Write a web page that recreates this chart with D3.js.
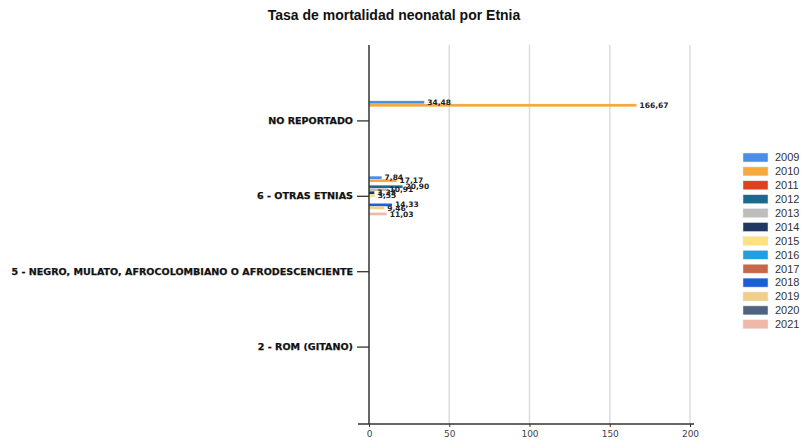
<!DOCTYPE html>
<html><head><meta charset="utf-8">
<script src="https://cdn.jsdelivr.net/npm/d3@7"></script>
<style>
html,body{margin:0;padding:0;background:#fff;}
svg{display:block;}
</style></head>
<body>
<svg id="chart" width="804" height="441"></svg>
<script>
const title = "Tasa de mortalidad neonatal por Etnia";
const categories = ["NO REPORTADO", "6 - OTRAS ETNIAS", "5 - NEGRO, MULATO, AFROCOLOMBIANO O AFRODESCENCIENTE", "2 - ROM (GITANO)"];
const years = ["2009","2010","2011","2012","2013","2014","2015","2016","2017","2018","2019","2020","2021"];
const colors = ["#4a8fe7","#f9a93b","#e0401b","#1a6a8f","#bdbdbd","#1f3864","#ffe082","#1fa0e0","#c8664a","#1a5fd6","#f0cf86","#4f6380","#f0b8a8"];
const valuesNoReportado = [34.48, 166.67, null, null, null, null, null, null, null, null, null, null, null];
const valuesOtrasEtnias = [7.84, 17.17, null, 20.90, 10.91, 3.33, 3.55, null, null, 14.33, 9.46, null, 11.03];
const valuesNegro = [null, null, null, null, null, null, null, null, null, null, null, null, null];
const valuesRom = [null, null, null, null, null, null, null, null, null, null, null, null, null];
const xTicks = [0, 50, 100, 150, 200];

const seriesByCategory = [valuesNoReportado, valuesOtrasEtnias, valuesNegro, valuesRom];

const svg = d3.select("#chart");
const plot = {left: 369, right: 690, top: 45, bottom: 422};

const x = d3.scaleLinear().domain([0, 200]).range([plot.left, plot.right]);
const y = d3.scalePoint().domain(categories).range([plot.top, plot.bottom]).padding(1);
const inner = d3.scaleBand().domain(years).range([-19.5, 19.5]).paddingInner(0.1);

// title
svg.append("text").attr("x", 394).attr("y", 20).attr("text-anchor", "middle")
  .attr("font-family", "Liberation Sans, Arial, sans-serif").attr("font-weight", "bold")
  .attr("font-size", 14).attr("fill", "#111").text(title);

// gridlines
svg.append("g").selectAll("line").data(xTicks.filter(d => d > 0)).join("line")
  .attr("x1", d => x(d)).attr("x2", d => x(d))
  .attr("y1", plot.top).attr("y2", 424)
  .attr("stroke", "#dcdcdc").attr("stroke-width", 1.5);

// bars
const data = [];
categories.forEach((c, ci) => {
  seriesByCategory[ci].forEach((v, yi) => {
    if (v !== null) data.push({cat: c, year: years[yi], color: colors[yi], value: v});
  });
});

svg.append("g").selectAll("rect").data(data).join("rect")
  .attr("x", x(0))
  .attr("y", d => y(d.cat) + inner(d.year))
  .attr("width", d => x(d.value) - x(0))
  .attr("height", inner.bandwidth())
  .attr("fill", d => d.color);

const fmt = v => d3.format(".2f")(v).replace(".", ",");
svg.append("g").selectAll("text").data(data).join("text")
  .attr("x", d => x(d.value) + 3)
  .attr("y", d => y(d.cat) + inner(d.year) + inner.bandwidth() / 2)
  .attr("dy", "0.35em")
  .attr("font-family", "DejaVu Sans, Verdana, sans-serif").attr("font-weight", "bold")
  .attr("font-size", 7.5).attr("fill", "#222")
  .text(d => fmt(d.value));

// y axis
const yAxis = d3.axisLeft(y).tickSize(12).tickPadding(4);
const gy = svg.append("g").attr("transform", `translate(${plot.left},0)`).call(yAxis);
gy.select(".domain").remove();
gy.selectAll(".tick line").attr("stroke", "#333").attr("stroke-width", 1.3);
gy.selectAll(".tick text")
  .attr("font-family", "DejaVu Sans, Verdana, sans-serif").attr("font-weight", "bold")
  .attr("fill", "#111").attr("stroke", "#111").attr("stroke-width", 0.25);
// fit font size to the reference width of the longest label (~342px)
const probe = gy.selectAll(".tick text").filter(d => d === categories[2]);
probe.attr("font-size", 10);
const w10 = probe.node().getComputedTextLength();
gy.selectAll(".tick text").attr("font-size", 10 * 342 / w10);

svg.append("line").attr("x1", plot.left).attr("x2", plot.left)
  .attr("y1", plot.top).attr("y2", 424).attr("stroke", "#333").attr("stroke-width", 1.5);

// x axis
const xAxis = d3.axisBottom(x).tickValues(xTicks).tickSize(3).tickPadding(4).tickFormat(d3.format("d"));
const gx = svg.append("g").attr("transform", `translate(0,424)`).call(xAxis);
gx.select(".domain").remove();
gx.selectAll(".tick line").attr("stroke", "#333");
gx.selectAll(".tick text").attr("font-family", "DejaVu Sans, Verdana, sans-serif")
  .attr("font-size", 9).attr("fill", "#444");
svg.append("line").attr("x1", 358).attr("x2", 694).attr("y1", 424).attr("y2", 424)
  .attr("stroke", "#333").attr("stroke-width", 1.3);

// legend
const legend = svg.append("g").attr("transform", "translate(743,153)");
const lg = legend.selectAll("g").data(years).join("g")
  .attr("transform", (d, i) => `translate(0,${i * 13.9})`);
lg.append("rect").attr("width", 25).attr("height", 9)
  .attr("fill", (d, i) => colors[i]).attr("stroke", "#e8e8e8").attr("stroke-width", 0.5);
lg.append("text").attr("x", 32).attr("y", 4.5).attr("dy", "0.35em")
  .attr("font-family", "Liberation Sans, Arial, sans-serif").attr("font-size", 11)
  .attr("fill", "#333").text(d => d);
</script>
</body></html>
